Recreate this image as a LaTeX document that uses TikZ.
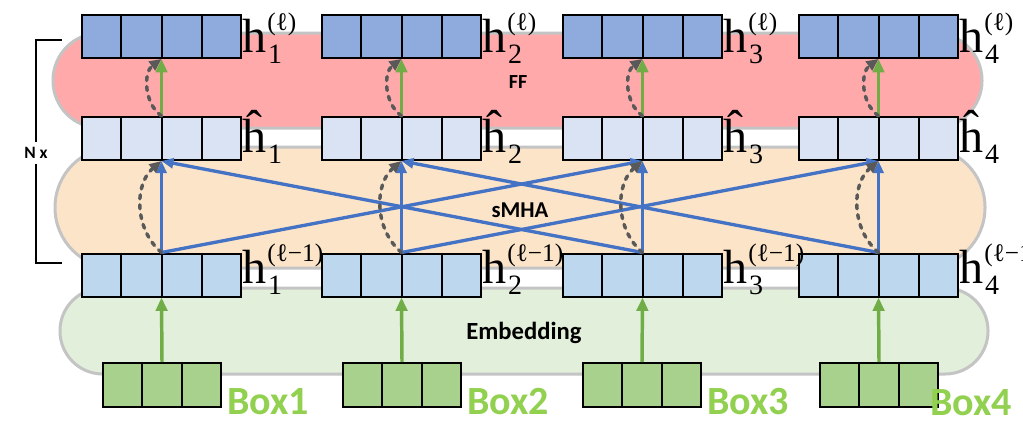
\documentclass[tikz,border=0pt]{standalone}
\usepackage{fontspec}
\setmainfont{Liberation Serif}
\newfontfamily\carl{Carlito}
\usetikzlibrary{arrows.meta,calc}
\definecolor{ffred}{HTML}{FFA9AB}
\definecolor{mhaor}{HTML}{FCE4C9}
\definecolor{embgr}{HTML}{E2EFDA}
\definecolor{bandgray}{HTML}{C4C4C4}
\definecolor{topblue}{HTML}{8FAADC}
\definecolor{midblue}{HTML}{DAE3F3}
\definecolor{botblue}{HTML}{BDD7EE}
\definecolor{inpgreen}{HTML}{A9D18E}
\definecolor{argreen}{HTML}{70AD47}
\definecolor{arblue}{HTML}{4472C4}
\definecolor{dashgray}{HTML}{595959}
\definecolor{boxtxt}{HTML}{92D050}
\tikzset{
  band/.style={draw=bandgray, line width=2.25pt},
  vecbox/.style={draw=black, line width=1.5pt, inner sep=0pt, minimum width=119.25pt, minimum height=32.25pt},
  inbox/.style={draw=black, line width=1.5pt, inner sep=0pt, fill=inpgreen, minimum width=88.5pt, minimum height=33pt},
  lab/.style={anchor=base west, inner sep=0pt, outer sep=0pt},
  garrow/.style={draw=argreen, line width=2.6pt, -{Triangle[length=10pt,width=8.5pt]}},
  barrow/.style={draw=arblue, line width=2.5pt, -{Triangle[length=9pt,width=7.5pt]}},
  resarrow/.style={draw=dashgray, line width=2.6pt, line cap=round, dash pattern=on 3pt off 4.5pt, -{Triangle[length=9pt,width=8pt]}},
  bandtxt/.style={font=\carl\bfseries, anchor=base, inner sep=0pt},
  boxlab/.style={font=\carl\bfseries\fontsize{30}{30}\selectfont, text=boxtxt, anchor=base west, inner sep=0pt},
  brk/.style={draw=black, line width=1.5pt}
}
\newcommand{\splitbox}[2]{%
  \pgfmathtruncatemacro\nm{#2-1}%
  \foreach \k in {1,...,\nm}{\draw[line width=1.5pt] ($(#1.north west)!\k/#2!(#1.north east)$) -- ($(#1.south west)!\k/#2!(#1.south east)$);}%
}
\newcommand{\hlab}[5]{%
  \node[lab,font=\fontsize{36}{36}\selectfont] (#1) at (#2,#3) {h};
  \node[lab,font=\fontsize{21}{21}\selectfont] (#1s) at ([xshift=1.5pt,yshift=-8.25pt]#1.base east) {#4};
  \node[lab,font=\fontsize{19}{19}\selectfont] (#1p) at ([xshift=1pt,yshift=16.5pt]#1.base east) {#5};
}
\newcommand{\hatlab}[4]{%
  \node[lab,font=\fontsize{36}{36}\selectfont] (#1) at (#2,#3) {ĥ};
  \node[lab,font=\fontsize{21}{21}\selectfont] (#1s) at ([xshift=1.5pt,yshift=-8.25pt]#1.base east) {#4};
}
\begin{document}
\begin{tikzpicture}[x=0.75pt,y=-0.75pt]
\clip (0,0) rectangle (1023,422);
\fill[white] (0,0) rectangle (1023,422);

% bands
\draw[band, fill=ffred, rounded corners=35.4pt] (53,33) rectangle (982,128);
\draw[band, fill=mhaor, rounded corners=45.2pt] (55,147) rectangle (985,268);
\draw[band, fill=embgr, rounded corners=32.1pt] (60,288) rectangle (988,374);

% band texts
\node[bandtxt, font=\carl\bfseries\fontsize{15}{15}\selectfont] (fftxt) at (518,88) {FF};
\node[bandtxt, font=\carl\bfseries\fontsize{17}{17}\selectfont] (mhatxt) at (520,217) {sMHA};
\node[bandtxt, font=\carl\bfseries\fontsize{18.5}{18.5}\selectfont] (embtxt) at (524,339) {Embedding};

% bracket
\node[font=\carl\bfseries\fontsize{13}{13}\selectfont, inner sep=3.5pt] (nx) at (36,153) {N x};
\draw[brk] (62,40) -| (nx.north);
\draw[brk] (nx.south) |- (62,263);

% vector boxes
\foreach \n/\x in {1/161.5,2/401.5,3/642.5,4/878.5}{
  \node[vecbox, fill=topblue] (t\n) at (\x,36.5) {};
  \node[vecbox, fill=midblue] (m\n) at (\x,138.5) {};
  \node[vecbox, fill=botblue] (b\n) at (\x,275) {};
}
\foreach \n/\x in {1/162,2/402,3/642,4/879}{
  \node[inbox] (i\n) at (\x,385) {};
}
\foreach \n in {1,2,3,4}{
  \splitbox{t\n}{4}
  \splitbox{m\n}{4}
  \splitbox{b\n}{4}
  \splitbox{i\n}{3}
}

% embedding arrows
\foreach \n in {1,2,3,4}{
  \draw[garrow] (i\n.north) -- (b\n.south);
}
% sMHA arrows
\foreach \n in {1,2,3,4}{
  \draw[barrow] (b\n.north) -- (m\n.south);
}
\draw[barrow] (b1.north) -- (m3.south);
\draw[barrow] (b3.north) -- (m1.south);
\draw[barrow] (b2.north) -- (m4.south);
\draw[barrow] (b4.north) -- (m2.south);
\foreach \n in {1,2,3,4}{
  \draw[resarrow] (b\n.north) to[bend left=50] (m\n.south);
}
% FF arrows
\foreach \n in {1,2,3,4}{
  \draw[garrow] (m\n.north) -- (t\n.south);
  \draw[resarrow] (m\n.north) to[bend left=54] (t\n.south);
}

% labels
\hlab{lt1}{242}{52}{1}{(ℓ)}
\hlab{lt2}{482}{52}{2}{(ℓ)}
\hlab{lt3}{723}{52}{3}{(ℓ)}
\hlab{lt4}{959}{52}{4}{(ℓ)}
\hatlab{lm1}{242}{152}{1}
\hatlab{lm2}{482}{152}{2}
\hatlab{lm3}{723}{152}{3}
\hatlab{lm4}{959}{152}{4}
\hlab{lb1}{242}{283}{1}{(ℓ−1)}
\hlab{lb2}{482}{283}{2}{(ℓ−1)}
\hlab{lb3}{723}{283}{3}{(ℓ−1)}
\hlab{lb4}{959}{283}{4}{(ℓ−1)}

% input labels
\node[boxlab] (bx1) at (227,414) {Box1};
\node[boxlab] (bx2) at (467,414) {Box2};
\node[boxlab] (bx3) at (707,414) {Box3};
\node[boxlab] (bx4) at (930,415) {Box4};
\end{tikzpicture}
\end{document}
